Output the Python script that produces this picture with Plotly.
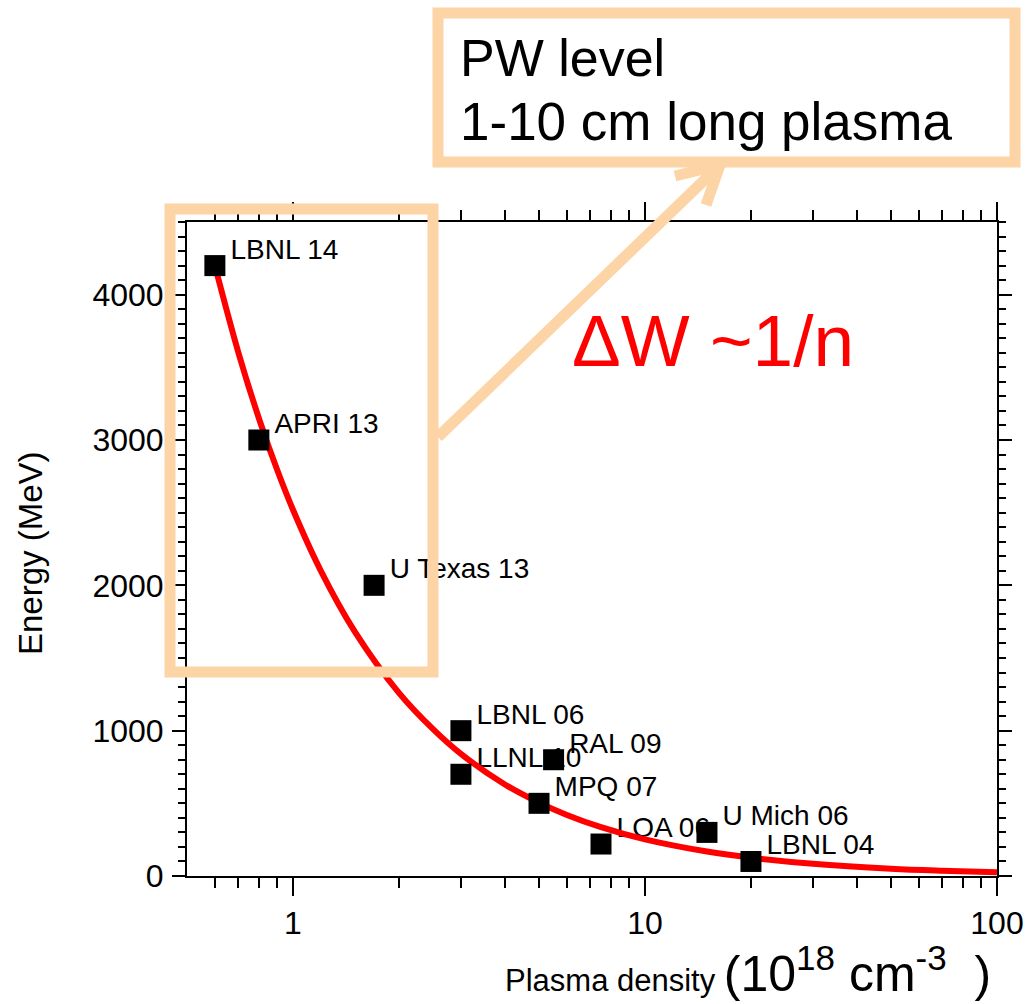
import numpy as np
import plotly.graph_objects as go

# Experimental laser-plasma accelerator results
labs = ["LBNL 14", "APRI 13", "U Texas 13", "LBNL 06", "LLNL 10",
        "RAL 09", "MPQ 07", "LOA 06", "U Mich 06", "LBNL 04"]
density = [0.6, 0.8, 1.7, 3.0, 3.0, 5.5, 5.0, 7.5, 15.0, 20.0]      # 10^18 cm^-3
energy = [4200, 3000, 2000, 1000, 700, 800, 500, 220, 300, 100]      # MeV

# Scaling curve dW ~ 1/n
curve_n = [0.6, 0.7, 0.8, 0.9, 1.0, 1.2, 1.5, 2.0, 2.5, 3.0, 4.0, 5.0,
           6.0, 7.5, 10.0, 15.0, 20.0, 30.0, 50.0, 70.0, 100.0]
curve_w = [4200, 3600, 3150, 2800, 2520, 2100, 1680, 1260, 1010, 840, 630,
           505, 420, 336, 252, 168, 126, 84, 50, 36, 25]

y_ticks = [0, 1000, 2000, 3000, 4000]
x_ticks = [1, 10, 100]
x_minor = [0.6, 0.7, 0.8, 0.9, 2, 3, 4, 5, 6, 7, 8, 9,
           20, 30, 40, 50, 60, 70, 80, 90]

FONT = "Liberation Sans, Arial, sans-serif"
PEACH = "rgb(252,212,166)"

W, H = 1028, 1004
L, R, T, B = 187, 31, 222, 128
PW, PH = W - L - R, H - T - B


def px(x):
    return (x - L) / PW


def py(y):
    return (H - B - y) / PH


fig = go.Figure()

# point labels (drawn first so markers sit on top)
fig.add_trace(go.Scatter(
    x=density, y=energy, mode="text",
    text=["\u00a0\u00a0" + s for s in labs],
    textposition="top right",
    textfont=dict(family=FONT, size=28, color="black"),
    hoverinfo="skip", showlegend=False,
))

fig.add_trace(go.Scatter(
    x=curve_n, y=curve_w, mode="lines",
    line=dict(color="red", width=6, shape="spline"),
    showlegend=False,
))

fig.add_trace(go.Scatter(
    x=density, y=energy, mode="markers",
    marker=dict(symbol="square", size=21, color="black"),
    showlegend=False,
))

axis_common = dict(
    showline=True, linecolor="black", linewidth=2,
    ticks="outside", tickcolor="black", tickwidth=2,
    mirror="allticks", showgrid=False, zeroline=False,
    tickfont=dict(family=FONT, size=32, color="black"),
)

fig.update_xaxes(
    type="log", range=[np.log10(0.5), 2],
    tickmode="array", tickvals=x_ticks, ticktext=[str(v) for v in x_ticks],
    ticklen=18,
    minor=dict(tickmode="array", tickvals=x_minor, ticks="outside",
               ticklen=10, tickwidth=2, tickcolor="black", showgrid=False),
    **axis_common,
)
fig.update_yaxes(
    range=[0, 4500],
    tickmode="array", tickvals=y_ticks, ticktext=[str(v) for v in y_ticks],
    ticklen=13, ticklabelstandoff=2,
    minor=dict(dtick=100, ticks="outside", ticklen=7, tickwidth=2,
               tickcolor="black", showgrid=False),
    **axis_common,
)

# inward ticks on the right edge so they cross the frame
fig.update_layout(yaxis2=dict(
    overlaying="y", side="right", anchor="x", range=[0, 4500],
    tickmode="array", tickvals=y_ticks, showticklabels=False,
    ticks="inside", ticklen=13, tickwidth=2, tickcolor="black",
    minor=dict(dtick=100, ticks="inside", ticklen=7, tickwidth=2,
               tickcolor="black", showgrid=False),
    showgrid=False, zeroline=False, showline=False,
))

annotations = [
    dict(text="Energy (MeV)", x=px(30), y=py(553), textangle=-90,
         font=dict(family=FONT, size=33, color="black")),
    dict(text=("Plasma density\u00a0<span style='font-size:50px'>(10<sup>18</sup>\u00a0"
               "cm<sup>-3</sup>\u00a0\u00a0)</span>"),
         x=px(748), y=py(1004), yanchor="bottom",
         font=dict(family=FONT, size=31, color="black")),
    dict(text="\u0394W ~1/n", x=px(570), y=py(341), xanchor="left",
         font=dict(family=FONT, size=73, color="red")),
    dict(text="PW level", x=px(458), y=py(58), xanchor="left",
         font=dict(family=FONT, size=52, color="black")),
    dict(text="1-10 cm long plasma", x=px(458), y=py(121), xanchor="left",
         font=dict(family=FONT, size=53, color="black")),
]
for a in annotations:
    a.setdefault("xanchor", "center")
    a.setdefault("yanchor", "middle")
    a.update(xref="paper", yref="paper", showarrow=False)

# highlight boxes and connecting arrow
shapes = [
    dict(type="rect", x0=px(170), x1=px(433), y0=py(672), y1=py(209)),
    dict(type="rect", x0=px(438), x1=px(1015), y0=py(162), y1=py(13)),
    dict(type="path",
         path=(f"M {px(438)} {py(437)} L {px(720)} {py(165)} "
               f"M {px(675)} {py(176)} L {px(720)} {py(165)} L {px(706)} {py(205)}")),
]
for s in shapes:
    s.update(xref="paper", yref="paper", layer="above",
             line=dict(color=PEACH, width=11))

fig.update_layout(
    width=W, height=H,
    margin=dict(l=L, r=R, t=T, b=B, autoexpand=False),
    paper_bgcolor="white", plot_bgcolor="white",
    annotations=annotations, shapes=shapes,
    showlegend=False,
)

fig.write_html("out.html")
